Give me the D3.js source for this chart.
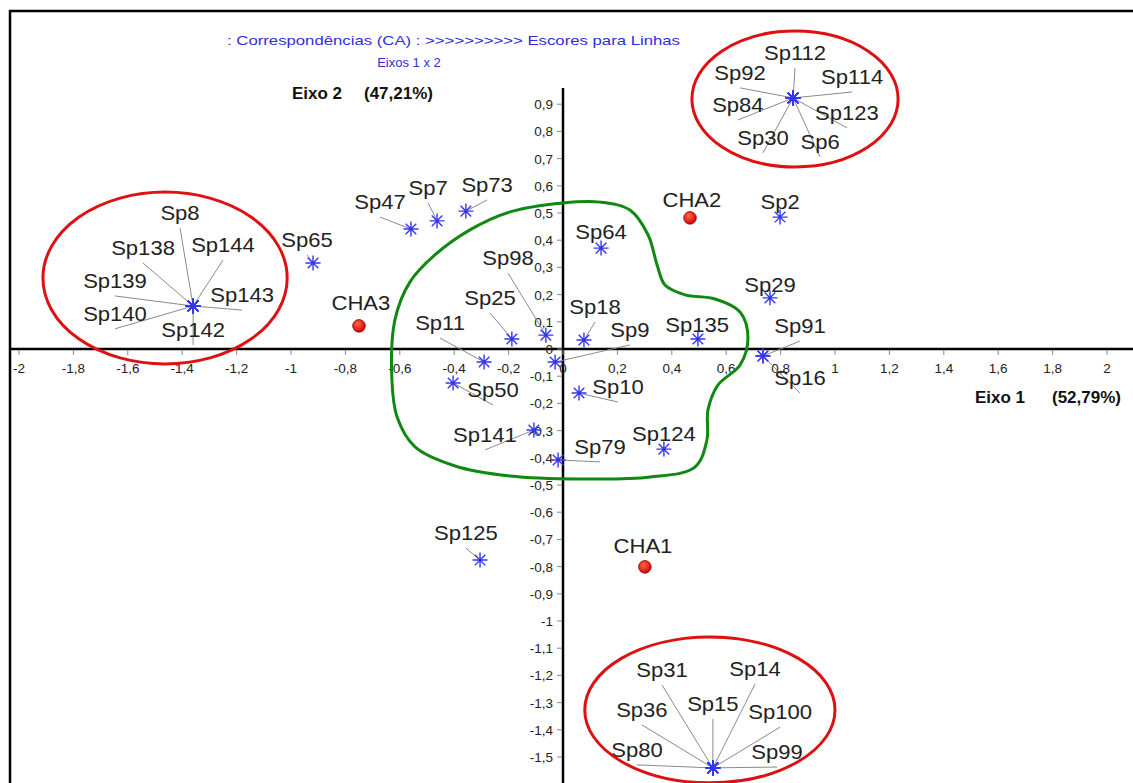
<!DOCTYPE html>
<html><head><meta charset="utf-8">
<script src="https://cdn.jsdelivr.net/npm/d3@7"></script>
<style>
body{margin:0;background:#fff}
svg{display:block}
text{font-family:"Liberation Sans",Arial,Helvetica,sans-serif}
</style>
</head><body>
<svg id="c" width="1133" height="783"></svg>
<script>
// ---- data (CA row scores, axes 1 x 2) ----
const speciesNames = ["Sp8","Sp138","Sp144","Sp139","Sp143","Sp140","Sp142",
  "Sp112","Sp92","Sp114","Sp84","Sp123","Sp30","Sp6",
  "Sp31","Sp14","Sp36","Sp15","Sp100","Sp80","Sp99",
  "Sp65","Sp47","Sp7","Sp73","Sp64","Sp98","Sp25","Sp11","Sp18","Sp9","Sp135",
  "Sp50","Sp10","Sp141","Sp79","Sp124","Sp2","Sp29","Sp91","Sp16","Sp125"];
const speciesX = [-1.360,-1.360,-1.360,-1.360,-1.360,-1.360,-1.360,
  0.846,0.846,0.846,0.846,0.846,0.846,0.846,
  0.551,0.551,0.551,0.551,0.551,0.551,0.551,
  -0.919,-0.559,-0.463,-0.357,0.140,-0.063,-0.188,-0.290,0.077,-0.029,0.496,
  -0.404,0.059,-0.107,-0.018,0.371,0.798,0.761,0.735,0.735,-0.305];
const speciesY = [0.158,0.158,0.158,0.158,0.158,0.158,0.158,
  0.923,0.923,0.923,0.923,0.923,0.923,0.923,
  -1.540,-1.540,-1.540,-1.540,-1.540,-1.540,-1.540,
  0.316,0.441,0.471,0.507,0.371,0.051,0.037,-0.048,0.033,-0.048,0.037,
  -0.125,-0.162,-0.298,-0.408,-0.368,0.485,0.188,-0.026,-0.026,-0.776];
// label anchor (end of leader line), in axis units
const labelX = [-1.408,-1.544,-1.250,-1.647,-1.180,-1.647,-1.360,
  0.853,0.651,1.063,0.643,1.044,0.735,0.945,
  0.364,0.706,0.290,0.551,0.798,0.272,0.787,
  -0.941,-0.673,-0.496,-0.279,0.140,-0.202,-0.268,-0.452,0.118,0.246,0.493,
  -0.257,0.202,-0.287,0.136,0.371,0.798,0.761,0.871,0.871,-0.357];
const labelY = [0.445,0.316,0.327,0.195,0.143,0.074,0.015,
  1.033,0.960,0.945,0.842,0.813,0.721,0.706,
  -1.235,-1.232,-1.382,-1.360,-1.390,-1.529,-1.537,
  0.346,0.485,0.537,0.548,0.375,0.279,0.132,0.040,0.099,0.015,0.033,
  -0.206,-0.195,-0.371,-0.415,-0.368,0.485,0.180,0.029,-0.162,-0.732];

const groupNames = ["CHA1","CHA2","CHA3"];
const groupX = [0.301,0.467,-0.750];
const groupY = [-0.801,0.482,0.085];
const groupLabelX = [0.294,0.474,-0.743];
const groupLabelY = [-0.779,0.493,0.114];

const xTicks = [-2,-1.8,-1.6,-1.4,-1.2,-1,-0.8,-0.6,-0.4,-0.2,0,0.2,0.4,0.6,0.8,1,1.2,1.4,1.6,1.8,2];
const yTicks = [0.9,0.8,0.7,0.6,0.5,0.4,0.3,0.2,0.1,0,-0.1,-0.2,-0.3,-0.4,-0.5,-0.6,-0.7,-0.8,-0.9,-1,-1.1,-1.2,-1.3,-1.4,-1.5];

// annotation shapes (axis units)
const ellipseCX = [-1.463,0.853,0.540];
const ellipseCY = [0.261,0.919,-1.327];
const ellipseRX = [0.449,0.379,0.460];
const ellipseRY = [0.316,0.250,0.268];
const blobX = [0,0.136,0.246,0.313,0.346,0.375,0.449,0.559,0.651,0.680,0.651,0.570,0.533,0.529,0.485,0.320,0.063,-0.195,-0.397,-0.544,-0.610,-0.629,-0.618,-0.563,-0.471,-0.342,-0.195];
const blobY = [0.537,0.540,0.511,0.419,0.309,0.235,0.199,0.184,0.136,0.040,-0.059,-0.132,-0.224,-0.335,-0.434,-0.471,-0.478,-0.467,-0.430,-0.360,-0.250,-0.114,0.107,0.246,0.346,0.438,0.504];

const titleText = ": Correspondências (CA) : >>>>>>>>>> Escores para Linhas";
const subtitleText = "Eixos 1 x 2";

// ---- drawing ----
const svg = d3.select("#c");
const x = d3.scaleLinear().domain([-2,2]).range([19,1107]);
const y = d3.scaleLinear().domain([-1.5,0.9]).range([757,104.2]);
const fmt = v => (Math.abs(v)<1e-9 ? "0" : String(+v.toFixed(1)).replace(".",","));

svg.append("rect").attr("width",1133).attr("height",783).attr("fill","#fff");
// frame (top & left)
svg.append("path").attr("d","M10,783V11H1133").attr("fill","none").attr("stroke","#000").attr("stroke-width",2.5);

// titles
svg.append("text").attr("x",227).attr("y",45)
  .attr("font-size",13.5).attr("textLength",453).attr("lengthAdjust","spacingAndGlyphs")
  .attr("fill","#2f2fd6").text(titleText);
svg.append("text").attr("x",409).attr("y",67).attr("text-anchor","middle")
  .attr("font-size",13).attr("fill","#2f2fd6").text(subtitleText);
svg.append("text").attr("x",292).attr("y",99).attr("font-size",17).attr("font-weight","bold").attr("fill","#111").text("Eixo 2");
svg.append("text").attr("x",364).attr("y",99).attr("font-size",17).attr("font-weight","bold").attr("fill","#111").text("(47,21%)");
svg.append("text").attr("x",975).attr("y",403).attr("font-size",17).attr("font-weight","bold").attr("fill","#111").text("Eixo 1");
svg.append("text").attr("x",1052).attr("y",403).attr("font-size",17).attr("font-weight","bold").attr("fill","#111").text("(52,79%)");

// axes
const y0 = y(0), x0 = x(0);
svg.append("line").attr("x1",10).attr("x2",1133).attr("y1",y0).attr("y2",y0).attr("stroke","#000").attr("stroke-width",2.5);
svg.append("line").attr("x1",x0).attr("x2",x0).attr("y1",88).attr("y2",783).attr("stroke","#000").attr("stroke-width",2.5);
const xt = svg.append("g");
xt.selectAll("line").data(xTicks).join("line")
  .attr("x1",d=>x(d)).attr("x2",d=>x(d)).attr("y1",y0+1).attr("y2",y0+6).attr("stroke","#888").attr("stroke-width",1);
xt.selectAll("text").data(xTicks).join("text")
  .attr("x",d=>x(d)).attr("y",y0+24).attr("text-anchor","middle").attr("font-size",13.5).attr("fill","#222").text(fmt);
const yt = svg.append("g");
yt.selectAll("line").data(yTicks).join("line")
  .attr("x1",x0-6).attr("x2",x0-1).attr("y1",d=>y(d)).attr("y2",d=>y(d)).attr("stroke","#888").attr("stroke-width",1);
yt.selectAll("text").data(yTicks).join("text")
  .attr("x",x0-10).attr("y",d=>y(d)+5).attr("text-anchor","end").attr("font-size",13.5).attr("fill","#222").text(fmt);

// leader lines
const idx = d3.range(speciesNames.length);
svg.append("g").selectAll("line").data(idx).join("line")
  .attr("x1",i=>x(speciesX[i])).attr("y1",i=>y(speciesY[i]))
  .attr("x2",i=>x(labelX[i])).attr("y2",i=>y(labelY[i]))
  .attr("stroke","#8a8a8a").attr("stroke-width",1);

// species labels
svg.append("g").selectAll("text").data(idx).join("text")
  .attr("transform",i=>`translate(${x(labelX[i])},${y(labelY[i])-8}) scale(1.05,1)`)
  .attr("text-anchor","middle").attr("font-size",21).attr("fill","#222").text(i=>speciesNames[i]);

// stars
const star = "M-7.5,0H7.5M0,-7.5V7.5M-5.3,-5.3L5.3,5.3M-5.3,5.3L5.3,-5.3";
svg.append("g").selectAll("path").data(idx).join("path")
  .attr("transform",i=>`translate(${x(speciesX[i])},${y(speciesY[i])})`)
  .attr("d",star).attr("stroke","#3636f0").attr("stroke-width",1.4).attr("fill","none");

// group points
const defs = svg.append("defs");
const rg = defs.append("radialGradient").attr("id","rg").attr("cx","40%").attr("cy","35%").attr("r","65%");
rg.append("stop").attr("offset","0%").attr("stop-color","#ff6a4a");
rg.append("stop").attr("offset","100%").attr("stop-color","#d40000");
const gi = d3.range(groupNames.length);
svg.append("g").selectAll("circle").data(gi).join("circle")
  .attr("cx",i=>x(groupX[i])).attr("cy",i=>y(groupY[i])).attr("r",6.3)
  .attr("fill","url(#rg)").attr("stroke","#8a0000").attr("stroke-width",0.8);
svg.append("g").selectAll("text").data(gi).join("text")
  .attr("transform",i=>`translate(${x(groupLabelX[i])},${y(groupLabelY[i])-8}) scale(1.05,1)`)
  .attr("text-anchor","middle").attr("font-size",21).attr("fill","#222").text(i=>groupNames[i]);

// red ellipses
const ei = d3.range(ellipseCX.length);
svg.append("g").selectAll("ellipse").data(ei).join("ellipse")
  .attr("cx",i=>x(ellipseCX[i])).attr("cy",i=>y(ellipseCY[i]))
  .attr("rx",i=>x(ellipseRX[i])-x(0)).attr("ry",i=>y(0)-y(ellipseRY[i]))
  .attr("fill","none").attr("stroke","#dd1111").attr("stroke-width",3);

// green outline
const blob = blobX.map((v,i)=>[x(v),y(blobY[i])]);
svg.append("path").attr("d",d3.line().curve(d3.curveCatmullRomClosed.alpha(0.5))(blob))
  .attr("fill","none").attr("stroke","#118811").attr("stroke-width",3);
</script>
</body></html>
